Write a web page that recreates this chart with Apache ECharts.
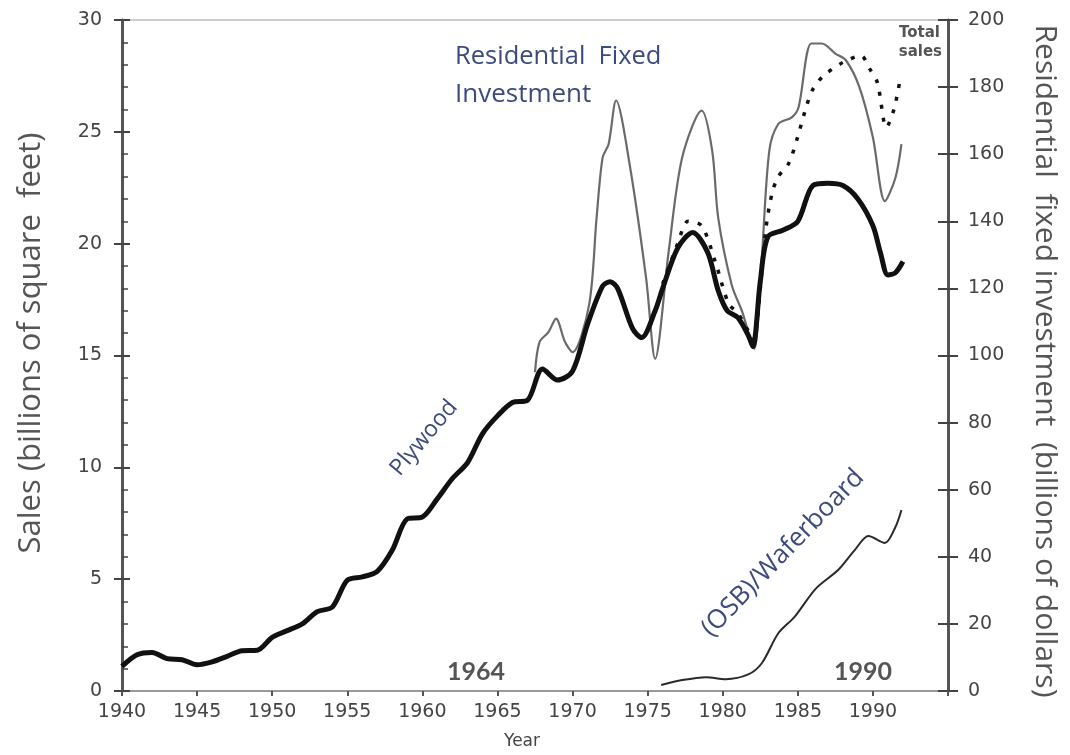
<!DOCTYPE html>
<html><head><meta charset="utf-8">
<script src="https://cdn.jsdelivr.net/npm/echarts@6/dist/echarts.min.js"></script>
<style>html,body{margin:0;padding:0;background:#fff}#c{width:1070px;height:755px}</style>
</head><body><div id="c"></div>
<script>
// Plywood sales (billions of sq ft, left axis)
const plyYears = [1940,1941,1942,1943,1944,1945,1946,1947,1948,1949,1950,1951,1952,1953,1954,1955,1956,1957,1958,1959,1960,1961,1962,1963,1964,1965,1966,1967,1968,1969,1970,1971,1972,1972.5,1973,1974,1974.6,1975.5,1976,1977,1978,1979,1979.7,1980.3,1981,1981.7,1982,1982.5,1983,1984,1985,1986,1987,1988,1989,1990,1990.5,1991,1991.5,1992];
const plyValues = [1.1,1.62,1.72,1.45,1.4,1.17,1.3,1.55,1.8,1.82,2.4,2.7,3.0,3.55,3.75,4.95,5.1,5.35,6.3,7.7,7.78,8.6,9.5,10.2,11.5,12.3,12.9,13.0,14.4,13.9,14.3,16.4,18.1,18.3,18.0,16.2,15.8,17.0,18.0,19.8,20.5,19.6,17.9,17.0,16.7,15.9,15.4,18.3,20.3,20.6,21.0,22.6,22.7,22.6,22.0,20.8,19.6,18.6,18.7,19.2];

// Residential fixed investment (billions of dollars, right axis)
const rfiYears = [1967.5,1967.8,1968.4,1968.9,1969.5,1970,1971.1,1971.6,1972,1972.4,1972.9,1973.8,1974.9,1975.5,1976.4,1977.3,1978.6,1979.3,1979.7,1980.6,1981.3,1981.7,1982.1,1982.6,1983.1,1983.7,1984.6,1985.05,1985.9,1986.6,1987.5,1988.2,1989.1,1990,1990.8,1991.5,1991.9];
const rfiValues = [95,104,107,111,104,101,115,141,159,163,176,157,123,99,131,159,173,161,141,121,113,107,102,129,161,169,171,174,193,193,190,188,180,165,146,153,163];

// Total sales (plywood + OSB, left axis)
const totYears = [1976,1977,1977.7,1978.6,1979.5,1980.4,1981,1981.7,1982,1982.9,1983.3,1983.7,1984.4,1985,1985.6,1986,1986.7,1988,1989.2,1989.8,1990.3,1990.9,1991.4,1991.8];
const totValues = [18.2,20.0,21.0,20.8,19.2,17.3,16.9,16.1,15.7,20.8,22.3,23.0,23.6,24.8,26.2,26.9,27.5,28.1,28.4,27.8,27.2,25.2,26.0,27.3];

// OSB/Waferboard sales (left axis)
const osbYears = [1975.9,1977.3,1978.9,1980.2,1981.7,1982.6,1983.7,1984.8,1986.2,1987.7,1988.8,1989.7,1990.8,1991.5,1991.9];
const osbValues = [0.27,0.49,0.62,0.53,0.74,1.24,2.58,3.33,4.58,5.42,6.31,6.93,6.62,7.33,8.09];

const leftTicks = {min:0, max:30, interval:5};
const rightTicks = {min:0, max:200, interval:20};
const xTicks = {min:1940, max:1995, interval:5};

const pairs = (xs, ys) => xs.map((x,i)=>[x, ys[i]]);
const tickFont = {fontFamily:'DejaVu Sans', fontSize:19, color:'#444'};

const chart = echarts.init(document.getElementById('c'), null, {renderer:'canvas'});
chart.setOption({
  animation:false,
  backgroundColor:'#fff',
  grid:{left:122, right:122, top:20, bottom:60, show:true, borderColor:'#999', borderWidth:1},
  xAxis:{type:'value', min:xTicks.min, max:xTicks.max, interval:xTicks.interval,
    axisLine:{lineStyle:{color:'#888', width:1.5}},
    axisTick:{show:true, length:5, lineStyle:{color:'#555', width:2}},
    axisLabel:Object.assign({margin:12, formatter:v=> v===1995?'':String(v)}, tickFont),
    splitLine:{show:false},
    name:'Year', nameLocation:'middle', nameGap:42,
    nameTextStyle:{fontFamily:'DejaVu Sans', fontSize:17, color:'#444', padding:[0,26,0,0]}
  },
  yAxis:[
    {type:'value', position:'left', min:leftTicks.min, max:leftTicks.max, interval:leftTicks.interval,
      axisLine:{show:true, lineStyle:{color:'#555', width:3}},
      axisTick:{show:true, length:8, lineStyle:{color:'#444', width:2}},
      axisLabel:Object.assign({margin:20}, tickFont), splitLine:{show:false}},
    {type:'value', position:'right', min:rightTicks.min, max:rightTicks.max, interval:rightTicks.interval,
      axisLine:{show:true, lineStyle:{color:'#555', width:3}},
      axisTick:{show:true, length:10, lineStyle:{color:'#444', width:2}},
      axisLabel:Object.assign({margin:20}, tickFont), splitLine:{show:false}},
    {type:'value', position:'left', min:leftTicks.min, max:leftTicks.max, interval:leftTicks.interval,
      axisLine:{show:false}, axisLabel:{show:false}, splitLine:{show:false},
      axisTick:{show:true, inside:true, length:8, lineStyle:{color:'#444', width:2}},
      minorTick:{show:true, splitNumber:5, length:6, lineStyle:{color:'#444', width:1.5}}},
    {type:'value', position:'right', min:rightTicks.min, max:rightTicks.max, interval:rightTicks.interval,
      axisLine:{show:false}, axisLabel:{show:false}, splitLine:{show:false},
      axisTick:{show:true, inside:true, length:10, lineStyle:{color:'#444', width:2}}}
  ],
  series:[
    {name:'Residential Fixed Investment', type:'line', yAxisIndex:1, data:pairs(rfiYears, rfiValues),
      smooth:0.3, symbol:'none', lineStyle:{color:'#6a6a6a', width:2.2}, z:2},
    {name:'Total sales', type:'line', yAxisIndex:0, data:pairs(totYears, totValues),
      smooth:0.3, symbol:'none', lineStyle:{color:'#111', width:3.5, type:[4,9]}, z:3},
    {name:'Plywood', type:'line', yAxisIndex:0, data:pairs(plyYears, plyValues),
      smooth:0.3, symbol:'none', lineStyle:{color:'#111', width:5}, z:4},
    {name:'(OSB)/Waferboard', type:'line', yAxisIndex:0, data:pairs(osbYears, osbValues),
      smooth:0.3, symbol:'none', lineStyle:{color:'#2a2a2a', width:2}, z:4}
  ],
  graphic:[
    {type:'text', x:31, y:343, rotation:Math.PI/2, style:{text:'Sales (billions of square  feet)', font:'31px "Open Sans"', fill:'#555', align:'center', verticalAlign:'middle'}},
    {type:'text', x:1045, y:361, rotation:-Math.PI/2, style:{text:'Residential  fixed investment  (billions of dollars)', font:'30px "Open Sans"', fill:'#555', align:'center', verticalAlign:'middle'}},
    {type:'text', x:455, y:57, style:{text:'Residential  Fixed', font:'25.5px "Open Sans"', fill:'#3d4a7c', align:'left', verticalAlign:'middle'}},
    {type:'text', x:455, y:95, style:{text:'Investment', font:'26px "Open Sans"', fill:'#3d4a7c', align:'left', verticalAlign:'middle'}},
    {type:'text', x:424, y:438, rotation:50*Math.PI/180, style:{text:'Plywood', font:'23px "Open Sans"', fill:'#3d4a7c', align:'center', verticalAlign:'middle'}},
    {type:'text', x:783, y:553, rotation:46*Math.PI/180, style:{text:'(OSB)/Waferboard', font:'26px "Open Sans"', fill:'#3d4a7c', align:'center', verticalAlign:'middle'}},
    {type:'text', x:476, y:672, style:{text:'1964', font:'bold 25px Lato', fill:'#555', align:'center', verticalAlign:'middle'}},
    {type:'text', x:863, y:672, style:{text:'1990', font:'bold 25px Lato', fill:'#555', align:'center', verticalAlign:'middle'}},
    {type:'text', x:940, y:33, style:{text:'Total', font:'bold 15px "DejaVu Sans"', fill:'#555', align:'right', verticalAlign:'middle'}},
    {type:'text', x:942, y:52, style:{text:'sales', font:'bold 15px "DejaVu Sans"', fill:'#555', align:'right', verticalAlign:'middle'}}
  ]
});
</script></body></html>
